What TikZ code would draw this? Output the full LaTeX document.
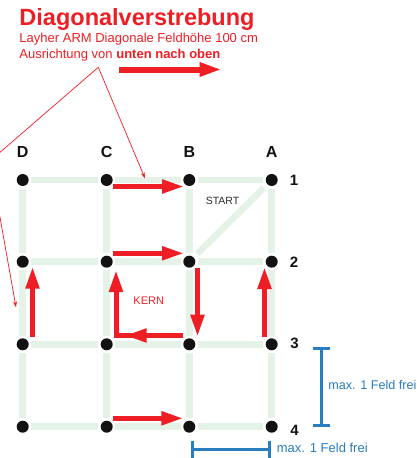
\documentclass[tikz,border=0pt]{standalone}
\usepackage{fontspec}
\setmainfont{Liberation Sans}
\usetikzlibrary{arrows.meta}
\definecolor{rred}{RGB}{237,30,36}
\definecolor{gline}{RGB}{228,242,232}
\definecolor{dimblue}{RGB}{41,125,193}
\definecolor{dotc}{RGB}{18,18,18}
\definecolor{txtgray}{RGB}{45,45,45}
\begin{document}
\begin{tikzpicture}[x=1pt,y=-1pt,
  dot/.style={circle, fill=dotc, inner sep=0pt, minimum size=12pt},
  gridline/.style={draw=gline, line width=6.5pt, shorten <=2.5pt, shorten >=2.5pt},
  redarrow/.style={draw=rred, line width=5pt, -{Triangle[length=22pt,width=13pt]}},
  annot/.style={draw=rred, line width=0.7pt},
  annotarrow/.style={annot, -{Stealth[length=6pt,width=4pt]}},
  dimline/.style={draw=dimblue, line width=3pt, {Bar[width=17pt]}-{Bar[width=17pt]}},
  collbl/.style={font=\fontsize{16}{16}\selectfont\bfseries, inner sep=0pt, text=dotc},
  dimlbl/.style={font=\fontsize{13}{13}\selectfont, inner sep=0pt, anchor=west, text=dimblue},
  smalllbl/.style={inner sep=0pt}
]
\clip (0,0) rectangle (417,458);

% title
\node[anchor=base west, inner sep=0pt, text=rred, font=\fontsize{23.5}{23.5}\selectfont\bfseries] (title) at (19.3,25.7) {Diagonalverstrebung};
\node[anchor=base west, inner sep=0pt, text=rred, font=\fontsize{13}{13}\selectfont] (sub1) at (19.3,42.7) {Layher ARM Diagonale Feldhöhe 100 cm};
\node[anchor=base west, inner sep=0pt, text=rred, font=\fontsize{13}{13}\selectfont] (sub2) at (19.3,58.3) {Ausrichtung von \textbf{unten nach oben}};
\coordinate (ta) at (119.3,69.5);
\coordinate (tb) at (221.7,69.5);
\draw[draw=rred, line width=6pt, -{Triangle[length=22pt,width=13pt]}] (ta) -- (tb);

% dots
\foreach \c/\x in {D/22.7, C/106.7, B/189.3, A/271.7}{
  \foreach \r/\y in {1/180, 2/261.7, 3/344.3, 4/426.7}{
    \node[dot] (\c\r) at (\x,\y) {};
  }
}

% grid lines
\foreach \r in {1,2,3,4}{
  \draw[gridline] (D\r) -- (C\r);
  \draw[gridline] (C\r) -- (B\r);
  \draw[gridline] (B\r) -- (A\r);
}
\foreach \c in {D,C,B,A}{
  \draw[gridline] (\c1) -- (\c2);
  \draw[gridline] (\c2) -- (\c3);
  \draw[gridline] (\c3) -- (\c4);
}
\draw[gridline, shorten <=5pt, shorten >=5pt] (A1) -- (B2);

% column / row labels
\node[collbl] (lD) at (22.7,151.7) {D};
\node[collbl] (lC) at (106.7,151.7) {C};
\node[collbl] (lB) at (189.3,151.7) {B};
\node[collbl] (lA) at (271.7,151.7) {A};
\node[collbl, font=\fontsize{15}{15}\selectfont\bfseries] (l1) at (294,180.5) {1};
\node[collbl, font=\fontsize{15}{15}\selectfont\bfseries] (l2) at (294,262) {2};
\node[collbl, font=\fontsize{15}{15}\selectfont\bfseries] (l3) at (294.5,343.5) {3};
\node[collbl, font=\fontsize{15}{15}\selectfont\bfseries] (l4) at (294.5,430) {4};

\node[smalllbl, text=txtgray, font=\fontsize{10.5}{10.5}\selectfont] (start) at (222.5,200.5) {START};
\node[smalllbl, text=rred, font=\fontsize{11}{11}\selectfont] (kern) at (148.7,300.7) {KERN};

% red arrows
\draw[redarrow] ([shift={(6.3,6.5)}]C1.center) -- ([shift={(-5.3,6.5)}]B1.center);
\draw[redarrow] ([shift={(6.3,-8.4)}]C2.center) -- ([shift={(-5.3,-8.4)}]B2.center);
\draw[redarrow] ([shift={(6.3,-8.4)}]C4.center) -- ([shift={(-6,-8.4)}]B4.center);
\draw[redarrow] ([shift={(9.8,-7.6)}]D3.center) -- ([shift={(9.8,5)}]D2.center);
\draw[redarrow] ([shift={(8.2,6.3)}]B2.center) -- ([shift={(8.2,-7.6)}]B3.center);
\draw[redarrow] ([shift={(-7.2,-7.3)}]A3.center) -- ([shift={(-7.2,5.3)}]A2.center);
\draw[redarrow, line join=miter] ([shift={(-6,-8.8)}]B3.center) -| ([shift={(9.3,8.3)}]C2.center);
\draw[redarrow] ([shift={(-6,-8.8)}]B3.center) -- ([shift={(18,-8.8)}]C3.center);

% annotation lines
\coordinate (apex) at (98.3,67.3);
\coordinate (bend) at (-10,161);
\coordinate (tipL) at (16,307.3);
\coordinate (tipR) at (145,178.3);
\draw[annotarrow] (apex) -- (tipR);
\draw[annotarrow] (apex) -- (bend) -- (tipL);

% dimensions
\coordinate (v1) at (321,347);
\coordinate (v2) at (321,426.5);
\draw[dimline] (v1) -- (v2);
\node[dimlbl, font=\fontsize{12.6}{12.6}\selectfont] (dv) at (328.2,385) {max. 1 Feld frei};
\coordinate (h1) at (190.6,449.3);
\coordinate (h2) at (270.5,449.3);
\draw[dimline] (h1) -- (h2);
\node[dimlbl] (dh) at (276.7,448.3) {max. 1 Feld frei};
\end{tikzpicture}
\end{document}
